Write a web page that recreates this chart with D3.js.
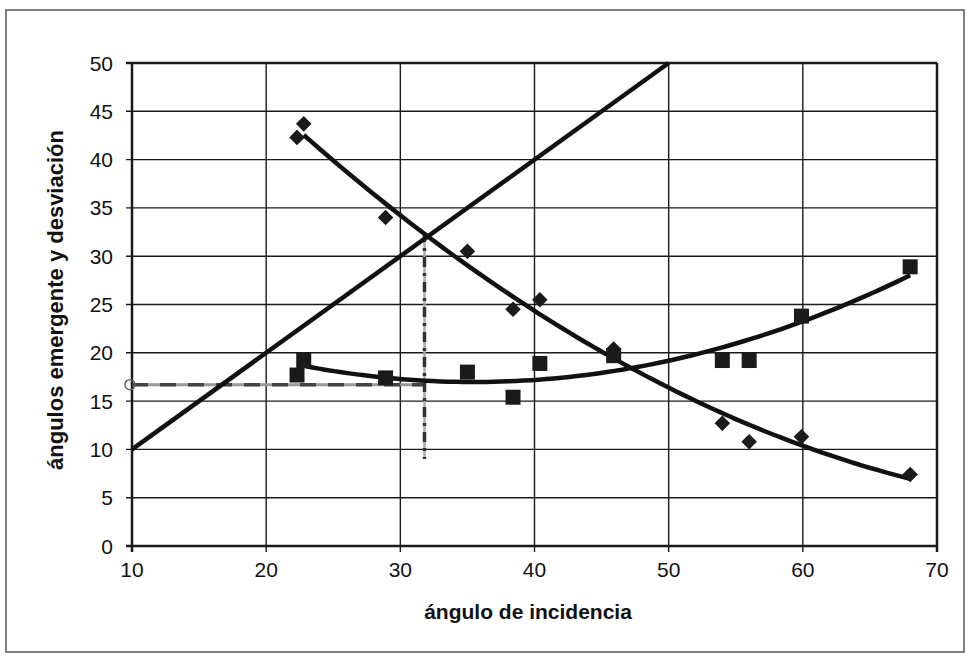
<!DOCTYPE html>
<html>
<head>
<meta charset="utf-8">
<script src="https://cdn.jsdelivr.net/npm/d3@7"></script>
<style>
  body { margin: 0; background: #fff; }
  text { font-family: "Liberation Sans", Arial, sans-serif; fill: #111; }
</style>
</head>
<body>
<script>
// angles of incidence for both measured series
var incidencia = [22.3, 22.8, 28.9, 35.0, 38.4, 40.4, 45.9, 54.0, 56.0, 59.9, 68.0];
// deviation (diamonds)
var desviacion = [42.3, 43.7, 34.0, 30.5, 24.5, 25.5, 20.4, 12.7, 10.8, 11.3, 7.4];
// emergent angle (squares)
var emergente = [17.7, 19.2, 17.4, 18.0, 15.4, 18.9, 19.7, 19.2, 19.2, 23.8, 28.9];
// identity line y = x
var identidad = [10, 50];
// minimum deviation marker
var minimo = {x: 31.8, y: 16.7, yBottom: 9};
var xTicks = [10, 20, 30, 40, 50, 60, 70];
var yTicks = [0, 5, 10, 15, 20, 25, 30, 35, 40, 45, 50];

var W = 971, H = 660;
var svg = d3.select("body").append("svg")
    .attr("width", W)
    .attr("height", H);

// outer frame
svg.append("rect")
    .attr("x", 6).attr("y", 10)
    .attr("width", 958).attr("height", 642)
    .attr("fill", "none")
    .attr("stroke", "#555")
    .attr("stroke-width", 1.5);

var x = d3.scaleLinear().domain([10, 70]).range([132, 937]);
var y = d3.scaleLinear().domain([0, 50]).range([546, 63]);

// grid
svg.append("g").selectAll("line")
    .data(yTicks)
    .enter().append("line")
    .attr("x1", x(10) - 6).attr("x2", x(70))
    .attr("y1", function(d) { return y(d); })
    .attr("y2", function(d) { return y(d); })
    .attr("stroke", "#1a1a1a")
    .attr("stroke-width", function(d) { return d == 50 || d == 0 ? 2.5 : 1.4; });

svg.append("g").selectAll("line")
    .data(xTicks)
    .enter().append("line")
    .attr("x1", function(d) { return x(d); })
    .attr("x2", function(d) { return x(d); })
    .attr("y1", y(50)).attr("y2", y(0) + 6)
    .attr("stroke", "#1a1a1a")
    .attr("stroke-width", function(d) { return d == 10 || d == 70 ? 2.5 : 1.4; });

// tick labels
svg.append("g").selectAll("text")
    .data(yTicks)
    .enter().append("text")
    .attr("x", x(10) - 19)
    .attr("y", function(d) { return y(d) + 7.5; })
    .attr("text-anchor", "end")
    .style("font-size", "21px")
    .text(function(d) { return d; });

svg.append("g").selectAll("text")
    .data(xTicks)
    .enter().append("text")
    .attr("x", function(d) { return x(d); })
    .attr("y", y(0) + 31)
    .attr("text-anchor", "middle")
    .style("font-size", "21px")
    .text(function(d) { return d; });

// axis titles
svg.append("text")
    .attr("x", 528).attr("y", 619)
    .attr("text-anchor", "middle")
    .style("font-size", "21px")
    .style("font-weight", "bold")
    .text("ángulo de incidencia");

svg.append("text")
    .attr("transform", "translate(63,300) rotate(-90)")
    .attr("text-anchor", "middle")
    .style("font-size", "22px")
    .style("font-weight", "bold")
    .text("ángulos emergente y desviación");

// least squares quadratic (like a spreadsheet polynomial trendline)
function polyfit2(xs, ys) {
  var n = xs.length, s = [0, 0, 0, 0, 0], t = [0, 0, 0];
  for (var i = 0; i < n; i++) {
    var p = 1;
    for (var k = 0; k < 5; k++) { s[k] += p; if (k < 3) t[k] += p * ys[i]; p *= xs[i]; }
  }
  var A = [[s[0], s[1], s[2], t[0]], [s[1], s[2], s[3], t[1]], [s[2], s[3], s[4], t[2]]];
  for (var c = 0; c < 3; c++) {
    for (var r = c + 1; r < 3; r++) {
      var f = A[r][c] / A[c][c];
      for (var j = c; j < 4; j++) A[r][j] -= f * A[c][j];
    }
  }
  var b = [0, 0, 0];
  for (var r = 2; r >= 0; r--) {
    var sum = A[r][3];
    for (var j = r + 1; j < 3; j++) sum -= A[r][j] * b[j];
    b[r] = sum / A[r][r];
  }
  return function(v) { return b[0] + b[1] * v + b[2] * v * v; };
}

var line = d3.line()
    .x(function(d) { return x(d[0]); })
    .y(function(d) { return y(d[1]); });

function trend(ys) {
  var f = polyfit2(incidencia, ys);
  var x0 = d3.min(incidencia) + 0.5, x1 = d3.max(incidencia);
  return d3.range(x0, x1 + 0.001, (x1 - x0) / 80).map(function(v) { return [v, f(v)]; });
}

// minimum deviation guides
svg.append("line")
    .attr("x1", x(10)).attr("x2", x(minimo.x))
    .attr("y1", y(minimo.y)).attr("y2", y(minimo.y))
    .attr("stroke", "#999").attr("stroke-width", 3);
svg.append("line")
    .attr("x1", x(10)).attr("x2", x(minimo.x))
    .attr("y1", y(minimo.y)).attr("y2", y(minimo.y))
    .attr("stroke", "#444").attr("stroke-width", 3.5)
    .attr("stroke-dasharray", "16,12");
svg.append("circle")
    .attr("cx", x(10) - 2).attr("cy", y(minimo.y))
    .attr("r", 5)
    .attr("fill", "none").attr("stroke", "#666").attr("stroke-width", 1.5);
svg.append("line")
    .attr("x1", x(minimo.x)).attr("x2", x(minimo.x))
    .attr("y1", y(32.5)).attr("y2", y(minimo.yBottom))
    .attr("stroke", "#aaa").attr("stroke-width", 2.5);
svg.append("line")
    .attr("x1", x(minimo.x)).attr("x2", x(minimo.x))
    .attr("y1", y(32.5)).attr("y2", y(minimo.yBottom))
    .attr("stroke", "#333").attr("stroke-width", 3.5)
    .attr("stroke-dasharray", "10,6,3,6");

// trend lines
svg.append("path")
    .datum(identidad.map(function(v) { return [v, v]; }))
    .attr("d", line)
    .attr("fill", "none").attr("stroke", "#111").attr("stroke-width", 4.5);

svg.append("path")
    .datum(trend(desviacion))
    .attr("d", line)
    .attr("fill", "none").attr("stroke", "#111").attr("stroke-width", 4.5);

svg.append("path")
    .datum(trend(emergente))
    .attr("d", line)
    .attr("fill", "none").attr("stroke", "#111").attr("stroke-width", 4.5);

// markers
svg.append("g").selectAll("rect")
    .data(incidencia)
    .enter().append("rect")
    .attr("x", -5.5).attr("y", -5.5)
    .attr("width", 11).attr("height", 11)
    .attr("transform", function(d, i) { return "translate(" + x(d) + "," + y(desviacion[i]) + ") rotate(45)"; })
    .attr("fill", "#1a1a1a");

svg.append("g").selectAll("rect.sq")
    .data(incidencia)
    .enter().append("rect")
    .attr("class", "sq")
    .attr("x", function(d) { return x(d) - 7.5; })
    .attr("y", function(d, i) { return y(emergente[i]) - 7.5; })
    .attr("width", 15).attr("height", 15)
    .attr("fill", "#1a1a1a");
</script>
</body>
</html>
